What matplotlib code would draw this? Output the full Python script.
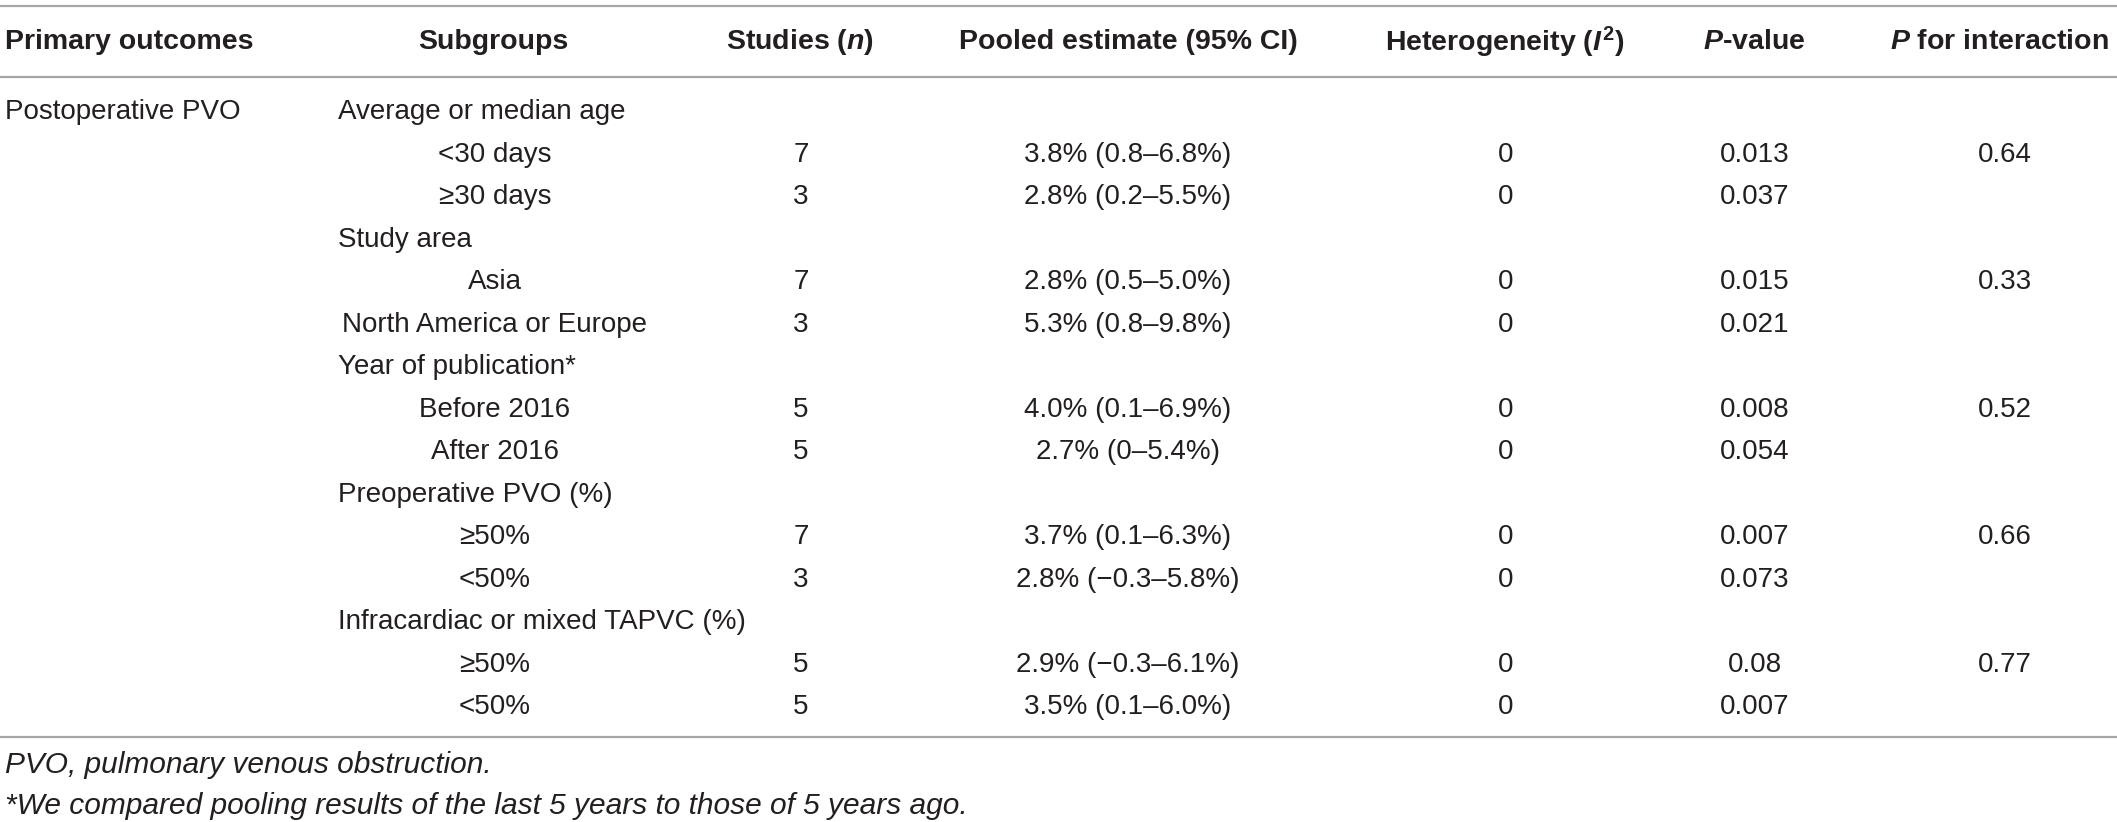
import matplotlib
matplotlib.use("Agg")
import matplotlib.pyplot as plt

plt.rcParams['font.family'] = ['Liberation Sans', 'DejaVu Sans']
plt.rcParams['mathtext.fontset'] = 'custom'
plt.rcParams['mathtext.rm'] = 'Liberation Sans:bold'
plt.rcParams['mathtext.it'] = 'Liberation Sans:italic:bold'
plt.rcParams['mathtext.bf'] = 'Liberation Sans:bold'

# ---- table content ----
col_headers = ["Primary outcomes", "Subgroups", r"Studies ($\mathit{n}$)",
               "Pooled estimate (95% CI)", r"Heterogeneity ($\mathit{I}^{2}$)",
               r"$\mathit{P}$-value", r"$\mathit{P}$ for interaction"]
outcomes = ["Postoperative PVO"] + [""] * 14
subgroups = ["Average or median age", "<30 days", "≥30 days",
             "Study area", "Asia", "North America or Europe",
             "Year of publication*", "Before 2016", "After 2016",
             "Preoperative PVO (%)", "≥50%", "<50%",
             "Infracardiac or mixed TAPVC (%)", "≥50%", "<50%"]
is_group_header = [True, False, False, True, False, False, True, False, False,
                   True, False, False, True, False, False]
studies = ["", "7", "3", "", "7", "3", "", "5", "5", "", "7", "3", "", "5", "5"]
pooled = ["", "3.8% (0.8–6.8%)", "2.8% (0.2–5.5%)", "", "2.8% (0.5–5.0%)",
          "5.3% (0.8–9.8%)", "", "4.0% (0.1–6.9%)", "2.7% (0–5.4%)", "",
          "3.7% (0.1–6.3%)", "2.8% (−0.3–5.8%)", "", "2.9% (−0.3–6.1%)",
          "3.5% (0.1–6.0%)"]
heterogeneity = ["", "0", "0", "", "0", "0", "", "0", "0", "", "0", "0", "", "0", "0"]
p_values = ["", "0.013", "0.037", "", "0.015", "0.021", "", "0.008", "0.054", "",
            "0.007", "0.073", "", "0.08", "0.007"]
p_interaction = ["", "0.64", "", "", "0.33", "", "", "0.52", "", "", "0.66", "",
                 "", "0.77", ""]
footnotes = ["PVO, pulmonary venous obstruction.",
             "*We compared pooling results of the last 5 years to those of 5 years ago."]

# ---- layout (pixels) ----
W, H = 2117, 822
fig = plt.figure(figsize=(W / 100, H / 100), dpi=100)
ax = fig.add_axes([0, 0, 1, 1])
ax.set_xlim(0, W)
ax.set_ylim(H, 0)
ax.axis('off')

txt = '#231f20'
line_c = '#a6a6a6'
fs = 20

header_x = [5, 493, 800, 1128, 1505, 1754, 1999]
header_ha = ['left', 'center', 'center', 'center', 'center', 'center', 'center']
header_y = 42
for x, ha, h in zip(header_x, header_ha, col_headers):
    ax.text(x, header_y, h, ha=ha, va='center', fontsize=20.5, fontweight='bold', color=txt)

for y in (6, 77, 737):
    ax.plot([0, W], [y, y], color=line_c, lw=1.6, solid_capstyle='butt')

row0 = 112
pitch = 42.5
for i in range(len(subgroups)):
    y = row0 + pitch * i
    if outcomes[i]:
        ax.text(5, y, outcomes[i], ha='left', va='center', fontsize=fs, color=txt)
    if is_group_header[i]:
        ax.text(338, y, subgroups[i], ha='left', va='center', fontsize=fs, color=txt)
    else:
        ax.text(495, y, subgroups[i], ha='center', va='center', fontsize=fs, color=txt)
    ax.text(801, y, studies[i], ha='center', va='center', fontsize=fs, color=txt)
    ax.text(1128, y, pooled[i], ha='center', va='center', fontsize=fs, color=txt)
    ax.text(1506, y, heterogeneity[i], ha='center', va='center', fontsize=fs, color=txt)
    ax.text(1755, y, p_values[i], ha='center', va='center', fontsize=fs, color=txt)
    ax.text(2005, y, p_interaction[i], ha='center', va='center', fontsize=fs, color=txt)

for j, f in enumerate(footnotes):
    ax.text(5, 773 + 41 * j, f, ha='left', va='baseline', fontsize=21.5, style='italic', color=txt)

fig.savefig("out.png", dpi=100)
